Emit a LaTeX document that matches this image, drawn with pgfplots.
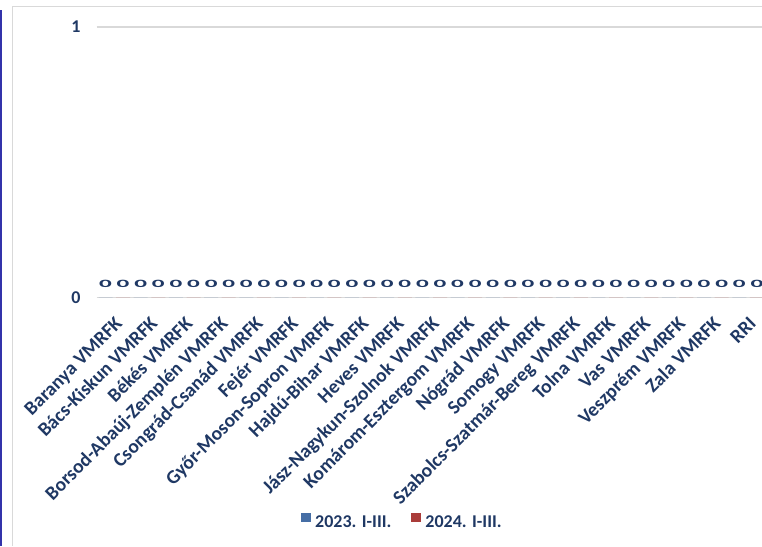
\documentclass[border=0pt]{standalone}
\usepackage{pgfplots}
\pgfplotsset{compat=1.18}
\usepackage{fontspec}
\setmainfont{Carlito}
\definecolor{navy}{RGB}{31,56,100}
\definecolor{gridgray}{RGB}{217,217,217}
\definecolor{ser1}{RGB}{70,110,165}
\definecolor{ser2}{RGB}{170,60,58}
\definecolor{edgeblue}{RGB}{51,51,170}
\newcommand{\lblfont}{\fontsize{18}{20}\selectfont\bfseries}
\newcommand{\catfont}{\fontsize{19.5}{22}\selectfont\bfseries}

\begin{document}
\begin{tikzpicture}
  \begin{axis}[
      at={(96.7pt,248.3pt)}, anchor=south west,
      width=669pt, height=270.7pt, scale only axis,
      ybar=3.6pt, bar width=14pt,
      xmin=-0.5, xmax=18.5, ymin=0, ymax=1,
      ytick={0,1}, xtick=data,
      xticklabels={Baranya VMRFK, Bács-Kiskun VMRFK, Békés VMRFK,
        Borsod-Abaúj-Zemplén VMRFK, Csongrád-Csanád VMRFK, Fejér VMRFK,
        Győr-Moson-Sopron VMRFK, Hajdú-Bihar VMRFK, Heves VMRFK,
        Jász-Nagykun-Szolnok VMRFK, Komárom-Esztergom VMRFK, Nógrád VMRFK,
        Somogy VMRFK, Szabolcs-Szatmár-Bereg VMRFK, Tolna VMRFK, Vas VMRFK,
        Veszprém VMRFK, Zala VMRFK, RRI},
      axis line style={draw=none}, tick style={draw=none},
      ymajorgrids, major grid style={gridgray, line width=1.2pt},
      ticklabel style={font=\lblfont, text=navy, inner sep=0pt},
      /pgf/number format/assume math mode=true,
      yticklabel style={anchor=east, xshift=-16pt},
      xticklabel style={font=\catfont, xshift=9pt, yshift=-23pt, rotate=45, anchor=base east},
      nodes near coords={\scalebox{1.4}[0.62]{0}},
      every node near coord/.append style={font=\lblfont, text=navy, anchor=base, inner sep=0pt, yshift=10pt},
      legend columns=2,
      legend style={draw=none, fill=none, at={(0.4555,-0.825)}, anchor=center,
        font=\lblfont, text=navy, nodes={inner sep=0pt},
        /tikz/every odd column/.style={column sep=4pt},
        /tikz/every even column/.style={column sep=20pt}},
    ]
    \addplot [draw=none, fill=ser1,
      legend image code/.code={\fill[ser1] (0pt,0pt) rectangle (10pt,9.5pt);}]
      coordinates {(0,0) (1,0) (2,0) (3,0) (4,0) (5,0) (6,0) (7,0) (8,0) (9,0)
        (10,0) (11,0) (12,0) (13,0) (14,0) (15,0) (16,0) (17,0) (18,0)};
    \addlegendentry{2023. I-III.}
    \addplot [draw=none, fill=ser2,
      legend image code/.code={\fill[ser2] (0pt,0pt) rectangle (10pt,9.5pt);}]
      coordinates {(0,0) (1,0) (2,0) (3,0) (4,0) (5,0) (6,0) (7,0) (8,0) (9,0)
        (10,0) (11,0) (12,0) (13,0) (14,0) (15,0) (16,0) (17,0) (18,0)};
    \addlegendentry{2024. I-III.}
  \end{axis}
  % chart area border and left edge line
  \draw[gridgray, line width=1pt] (12pt,0pt) -- (12pt,539pt) -- (775pt,539pt);
  \draw[edgeblue, line width=1.5pt] (0.75pt,0pt) -- (0.75pt,536pt);
  \pgfresetboundingbox
  \useasboundingbox (0pt,0pt) rectangle (762pt,546pt);
\end{tikzpicture}
\end{document}
